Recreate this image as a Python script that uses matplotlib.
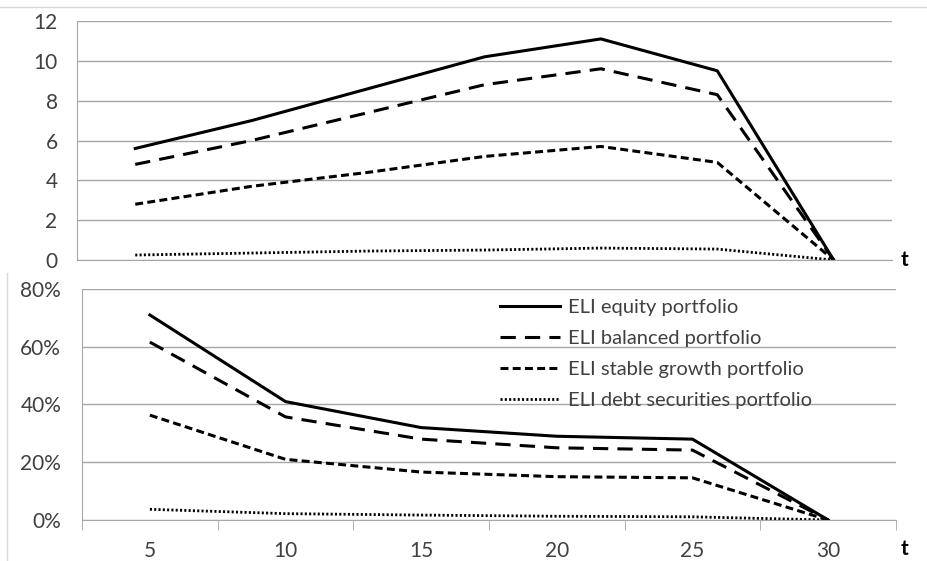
import matplotlib
matplotlib.use("Agg")
import matplotlib.pyplot as plt
from matplotlib.lines import Line2D
from matplotlib.ticker import FuncFormatter

plt.rcParams['font.family'] = ['Lato', 'DejaVu Sans']

# top panel: 7 points, no x labels
top_idx = [0, 1, 2, 3, 4, 5, 6]
top_equity = [5.6, 7.0, 8.6, 10.2, 11.1, 9.5, 0.0]
top_balanced = [4.8, 6.0, 7.4, 8.8, 9.6, 8.3, 0.0]
top_stable = [2.8, 3.7, 4.4, 5.2, 5.7, 4.9, 0.0]
top_debt = [0.25, 0.35, 0.45, 0.5, 0.6, 0.55, 0.0]

# bottom panel
t_labels = ['5', '10', '15', '20', '25', '30']
bot_equity = [0.71, 0.41, 0.32, 0.29, 0.28, 0.0]
bot_balanced = [0.616, 0.357, 0.28, 0.25, 0.242, 0.0]
bot_stable = [0.363, 0.21, 0.166, 0.15, 0.146, 0.0]
bot_debt = [0.037, 0.022, 0.017, 0.013, 0.011, 0.0]

names = ['ELI equity portfolio', 'ELI balanced portfolio',
         'ELI stable growth portfolio', 'ELI debt securities portfolio']
styles = [dict(ls='-', lw=2.2),
          dict(ls=(0, (5, 3)), lw=2.2),
          dict(ls=(0, (2.6, 1.4)), lw=2.2),
          dict(ls=(0, (0.75, 0.8)), lw=2.0)]

grid_col = '#a6a6a6'
txt_col = '#404040'
fig = plt.figure(figsize=(9.27, 5.61), dpi=100)

ax1 = fig.add_axes([0.0831, 0.5365, 0.879, 0.4261])
ax2 = fig.add_axes([0.0885, 0.0731, 0.878, 0.4118])

for ys, st in zip([top_equity, top_balanced, top_stable, top_debt], styles):
    ax1.plot(top_idx, ys, color='black', **st)
ax1.set_xlim(-0.5, 6.5)
ax1.set_ylim(0, 12)
ax1.set_yticks(range(0, 13, 2))
ax1.set_xticks([])
ax1.yaxis.grid(True, color=grid_col, lw=1)
ax1.set_axisbelow(True)
for s in ['top', 'right']:
    ax1.spines[s].set_visible(False)
ax1.spines['left'].set_color(grid_col)
ax1.spines['bottom'].set_color(grid_col)
ax1.tick_params(axis='y', length=0, pad=14, labelsize=15, colors=txt_col)
ax1.text(1.016, 0.0, 't', transform=ax1.transAxes, fontsize=15,
         fontweight='bold', va='center', ha='center')

x = list(range(len(t_labels)))
for ys, st, nm in zip([bot_equity, bot_balanced, bot_stable, bot_debt], styles, names):
    ax2.plot(x, ys, color='black', label=nm, **st)
ax2.set_xlim(-0.5, 5.5)
ax2.set_ylim(0, 0.8)
ax2.set_yticks([0, 0.2, 0.4, 0.6, 0.8])
ax2.yaxis.set_major_formatter(FuncFormatter(lambda v, p: f'{v*100:.0f}%'))
ax2.set_xticks(x)
ax2.set_xticklabels(t_labels)
ax2.set_xticks([i - 0.5 for i in range(len(t_labels) + 1)], minor=True)
ax2.tick_params(axis='x', which='major', length=0, pad=15, labelsize=15, colors=txt_col)
ax2.tick_params(axis='x', which='minor', length=7, color=grid_col, direction='out')
ax2.tick_params(axis='y', length=0, pad=15, labelsize=15, colors=txt_col)
ax2.yaxis.grid(True, color=grid_col, lw=1)
ax2.set_axisbelow(True)
for s in ['top', 'right']:
    ax2.spines[s].set_visible(False)
ax2.spines['left'].set_color(grid_col)
ax2.spines['bottom'].set_color(grid_col)
ax2.text(1.011, -0.125, 't', transform=ax2.transAxes, fontsize=15,
         fontweight='bold', va='center', ha='center')

leg = ax2.legend(loc='upper left', bbox_to_anchor=(0.5135, 0.958), frameon=False,
                 fontsize=14.5, handlelength=3.0, handletextpad=0.4, labelspacing=0.7,
                 borderaxespad=0, borderpad=0)
for t in leg.get_texts():
    t.set_color(txt_col)

# faint chart borders from the source layout
fig.add_artist(Line2D([0, 1], [1 - 7 / 561, 1 - 7 / 561], color='#d9d9d9', lw=1))
fig.add_artist(Line2D([7 / 927, 7 / 927], [0, 1 - 273 / 561], color='#d9d9d9', lw=1))

fig.savefig('out.png', dpi=100)
